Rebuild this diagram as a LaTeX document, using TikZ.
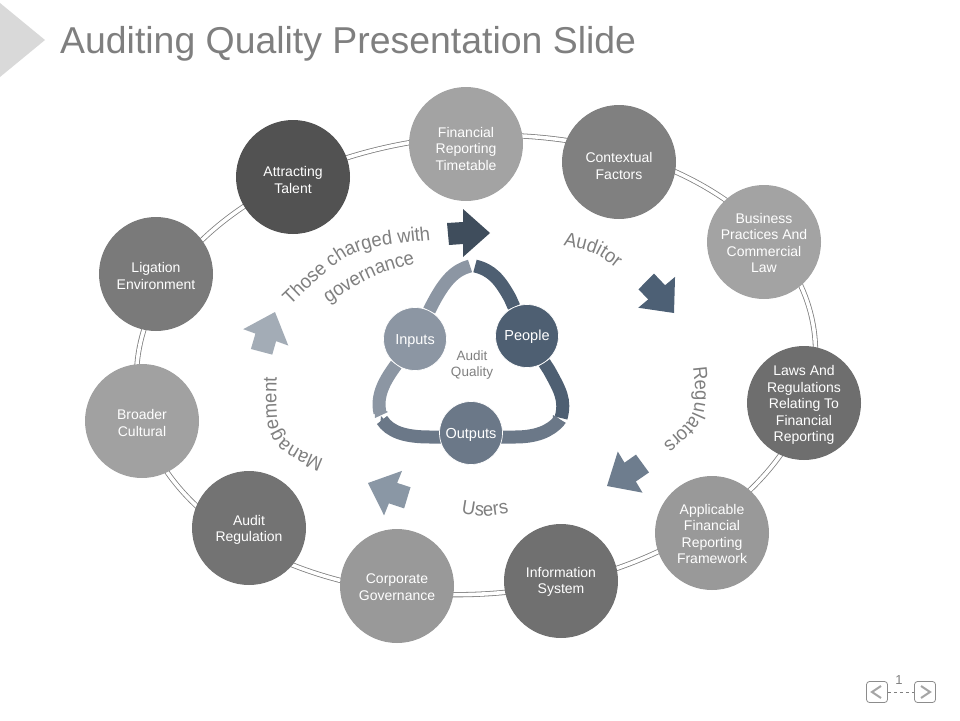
\documentclass[tikz,border=0pt]{standalone}
\usepackage{fontspec}
\setmainfont{Liberation Sans}
\newfontfamily\curvefam[FakeStretch=0.94]{Liberation Sans}
\usetikzlibrary{backgrounds,decorations.text}
\definecolor{txtgray}{HTML}{7F7F7F}
\tikzset{
  ball/.style={circle,minimum size=114pt,inner sep=0pt,align=center,text=white,
    font=\fontsize{14}{16.5}\selectfont},
  hub/.style={circle,draw=white,line width=0.7pt,minimum size=63pt,inner sep=0pt,text=white,
    font=\fontsize{14.5}{16}\selectfont},
  band/.style={line width=13pt},
  ringline/.style={draw=txtgray,line width=0.8pt,double=white,double distance=3.6pt},
  navbtn/.style={draw=txtgray!90,rounded corners=3pt,line width=0.8pt,minimum size=21pt,inner sep=0pt},
  chevron/.style={draw=txtgray!70,line width=2pt},
  curved/.style={postaction={decorate}}
}
\newcommand{\arrowshape}{(0,0) -- (-27,-24) -- (-27,-11) -- (-43,-10) -- (-41,12) -- (-27,11) -- (-27,24) -- cycle}
\newcommand{\curvefont}{\curvefam\fontsize{19.6}{20}\selectfont\color{txtgray}}
\newcommand{\textdrop}[1]{\rule{0pt}{#1pt}}
\begin{document}
\begin{tikzpicture}[x=1pt,y=-1pt]
  \useasboundingbox (0,0) rectangle (960,720);
  % title
  \fill[black!15] (0,3) -- (45,40) -- (0,77) -- cycle;
  \node[anchor=base west,inner sep=0pt,text=txtgray,font=\fontsize{37.4}{37}\selectfont] (title) at (60,53) {Auditing Quality Presentation Slide};
  % outer ring
  \draw[ringline,rotate around={4:(476,365)}] (476,365) ellipse [x radius=340,y radius=229];
  \node[ball,fill=black!36] (financial) at (466,144) {\textdrop{20}Financial\\Reporting\\Timetable};
  \node[ball,fill=black!50] (contextual) at (619,162) {\textdrop{18}Contextual\\Factors};
  \node[ball,fill=black!36] (business) at (764,242) {\textdrop{12}Business\\Practices And\\Commercial\\Law};
  \node[ball,fill=black!57] (laws) at (804,403) {\textdrop{14}Laws And\\Regulations\\Relating To\\Financial\\Reporting};
  \node[ball,fill=black!40] (framework) at (712,533) {\textdrop{12}Applicable\\Financial\\Reporting\\Framework};
  \node[ball,fill=black!56] (information) at (561,581) {\textdrop{12}Information\\System};
  \node[ball,fill=black!40] (corporate) at (397,586) {\textdrop{12}Corporate\\Governance};
  \node[ball,fill=black!55] (regulation) at (249,528) {\textdrop{14}Audit\\Regulation};
  \node[ball,fill=black!37] (broader) at (142,421) {\textdrop{14}Broader\\Cultural};
  \node[ball,fill=black!52] (ligation) at (156,274) {\textdrop{14}Ligation\\Environment};
  \node[ball,fill=black!68] (talent) at (293,177) {\textdrop{16}Attracting\\Talent};
  % block arrows
  \fill[fill={rgb,255:red,63;green,77;blue,92},shift={(490,233)}] \arrowshape;
  \fill[fill={rgb,255:red,77;green,96;blue,117},shift={(674,313)},rotate=-50] \arrowshape;
  \fill[fill={rgb,255:red,110;green,125;blue,142},shift={(607,486)},rotate=-149] \arrowshape;
  \fill[fill={rgb,255:red,138;green,151;blue,165},shift={(368,483)},rotate=158] \arrowshape;
  \fill[fill={rgb,255:red,163;green,172;blue,182},shift={(275,312)},rotate=70] \arrowshape;
  % curved labels
  \path[curved,decoration={text along path,text align=center,text={|\curvefont|Those charged with}}] (290,306) .. controls (350,248) .. (431,240);
  \path[curved,decoration={text along path,text align=center,text={|\curvefont|governance}}] (328,304) .. controls (370,276) .. (416,263);
  \path[curved,decoration={text along path,text align=center,text={|\curvefont|Auditor}}] (562,245) .. controls (595,252) .. (617,269);
  \path[curved,decoration={text along path,text align=center,text={|\curvefont|Regulators}}] (693,366) .. controls (698,414) .. (662,445);
  \path[curved,decoration={text along path,text align=center,text={|\curvefont|Users}}] (461,513) .. controls (485,517) .. (509,513);
  \path[curved,decoration={text along path,text align=center,text={|\curvefont|Management}}] (329,462) .. controls (275,440) .. (277,372);
  % inner cycle
  \node[hub,fill={rgb,255:red,140;green,150;blue,163}] (inputs) at (415,339) {\textdrop{13}Inputs};
  \node[hub,fill={rgb,255:red,78;green,95;blue,114}] (people) at (527,336) {\textdrop{12}People};
  \node[hub,fill={rgb,255:red,107;green,120;blue,136}] (outputs) at (471,433) {\textdrop{14}Outputs};
  \node[text=txtgray,align=center,inner sep=0pt,font=\fontsize{13.5}{15.5}\selectfont] (audit) at (472,365) {Audit\\Quality};
  \coordinate (peopletop) at (475,266);
  \coordinate (peoplelow) at (561,418);
  \coordinate (outright) at (560,420);
  \coordinate (outleft) at (382,420);
  \coordinate (inlow) at (380,413);
  \coordinate (intop) at (470,266);
  \begin{scope}[on background layer]
    \draw[band,draw={rgb,255:red,78;green,95;blue,114}] (peopletop) .. controls (492,270) and (500,280) .. (510,298) -- (people) -- (549,370) .. controls (560,390) and (566,400) .. (peoplelow);
    \draw[band,draw={rgb,255:red,107;green,120;blue,136}] (outright) .. controls (550,432) and (535,437) .. (515,437) -- (430,437) .. controls (405,437) and (390,432) .. (outleft);
    \draw[band,draw={rgb,255:red,140;green,150;blue,163}] (inlow) .. controls (376,395) and (385,380) .. (inputs) -- (432,305) .. controls (445,280) and (455,270) .. (intop);
    % small flares at the band ends
    \fill[fill={rgb,255:red,107;green,120;blue,136}] (553,415) -- (566,423) -- (552,432) -- cycle;
    \fill[fill={rgb,255:red,107;green,120;blue,136}] (381,416) -- (380,427) -- (392,428) -- cycle;
    \fill[fill={rgb,255:red,140;green,150;blue,163}] (375,418) -- (388,412) -- (374,404) -- cycle;
  \end{scope}
  % slide controls
  \node[navbtn] (prevbtn) at (877,692) {};
  \node[navbtn] (nextbtn) at (925,692) {};
  \draw[txtgray,dashed,line width=0.4pt] (prevbtn) -- (nextbtn);
  \node[text=txtgray,inner sep=0pt,font=\fontsize{13}{13}\selectfont] (pagenum) at (899,680) {1};
  \draw[chevron] ([shift={(4,-6)}]prevbtn.center) -- ([shift={(-5,0)}]prevbtn.center) -- ([shift={(4,6)}]prevbtn.center);
  \draw[chevron] ([shift={(-4,-6)}]nextbtn.center) -- ([shift={(5,0)}]nextbtn.center) -- ([shift={(-4,6)}]nextbtn.center);
\end{tikzpicture}
\end{document}
